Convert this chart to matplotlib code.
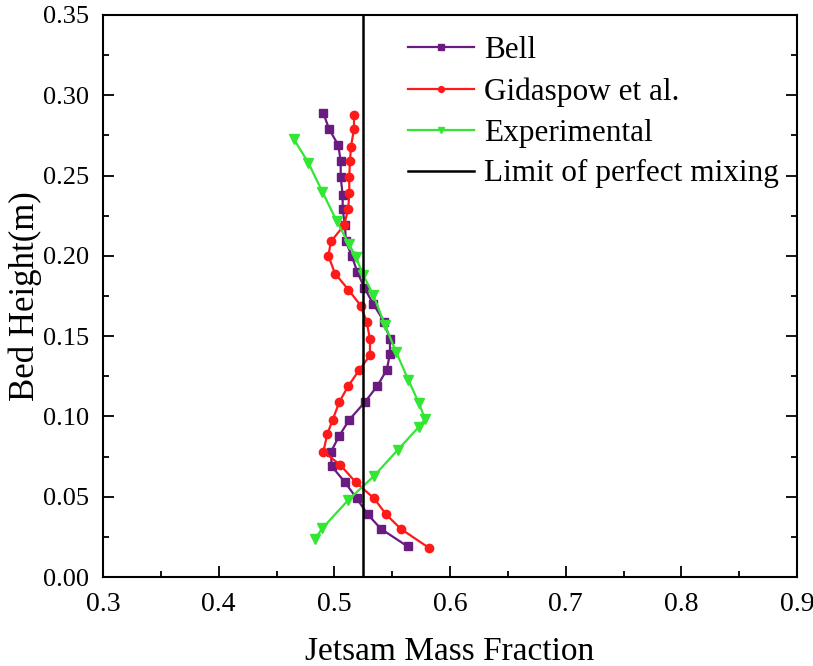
import numpy as np
import matplotlib
matplotlib.use("Agg")
import matplotlib.pyplot as plt
from matplotlib.ticker import MultipleLocator

# =========================
# Data
# =========================

# Bell model (purple squares)
bell_x = [0.4905, 0.4954, 0.5034, 0.5055, 0.5055, 0.5072, 0.5072, 0.5092, 0.5100, 0.5150,
          0.5199, 0.5260, 0.5337, 0.5430, 0.5481, 0.5481, 0.5453, 0.5372, 0.5265, 0.5130,
          0.5043, 0.4971, 0.4977, 0.5092, 0.5193, 0.5288, 0.5403, 0.5634]
bell_y = [0.289, 0.279, 0.269, 0.259, 0.249, 0.238, 0.229, 0.219, 0.209, 0.200,
          0.190, 0.180, 0.170, 0.159, 0.148, 0.139, 0.129, 0.119, 0.109, 0.098,
          0.088, 0.078, 0.069, 0.059, 0.049, 0.039, 0.030, 0.019]

# Gidaspow et al. (red circles)
gida_x = [0.5170, 0.5170, 0.5144, 0.5135, 0.5129, 0.5129, 0.5120, 0.5084, 0.4971, 0.4948,
          0.5006, 0.5121, 0.5228, 0.5280, 0.5308, 0.5308, 0.5216, 0.5121, 0.5043, 0.4986,
          0.4939, 0.4905, 0.5049, 0.5185, 0.5343, 0.5447, 0.5574, 0.5821]
gida_y = [0.288, 0.279, 0.268, 0.259, 0.249, 0.239, 0.229, 0.219, 0.209, 0.200,
          0.189, 0.179, 0.169, 0.159, 0.148, 0.138, 0.129, 0.119, 0.109, 0.098,
          0.089, 0.078, 0.070, 0.059, 0.049, 0.039, 0.030, 0.018]

# Experimental (green down triangles)
exp_x = [0.4651, 0.4775, 0.4896, 0.5020, 0.5127, 0.5185, 0.5250, 0.5337, 0.5438, 0.5533,
         0.5640, 0.5732, 0.5784, 0.5732, 0.5548, 0.5343, 0.5121, 0.4896, 0.4833]
exp_y = [0.2726, 0.2580, 0.2400, 0.2217, 0.2072, 0.1995, 0.1880, 0.1756, 0.1569, 0.1403,
         0.1227, 0.1082, 0.0984, 0.0936, 0.0791, 0.0629, 0.0480, 0.0303, 0.0237]

# Limit of perfect mixing
perfect_mix = 0.525

# =========================
# Figure
# =========================

plt.rcParams["font.family"] = ["Liberation Serif", "DejaVu Serif"]

fig = plt.figure(figsize=(8.13, 6.66), dpi=100)
ax = fig.add_axes([103 / 813, 1 - 577 / 666, (797 - 103) / 813, (577 - 15) / 666])

ax.plot(bell_x, bell_y, color="#6a1b80", marker="s", markersize=5.5, lw=1.6, label="Bell")
ax.plot(gida_x, gida_y, color="#ff1a1a", marker="o", markersize=6, lw=1.6, label="Gidaspow et al.")
ax.plot(exp_x, exp_y, color="#33e633", marker="v", markersize=7, lw=1.6, label="Experimental")
ax.axvline(perfect_mix, color="black", lw=1.8, label="Limit of perfect mixing")

ax.set_xlim(0.3, 0.9)
ax.set_ylim(0.0, 0.35)
ax.xaxis.set_major_locator(MultipleLocator(0.1))
ax.xaxis.set_minor_locator(MultipleLocator(0.05))
ax.yaxis.set_major_locator(MultipleLocator(0.05))
ax.yaxis.set_minor_locator(MultipleLocator(0.025))
ax.xaxis.set_major_formatter(plt.FormatStrFormatter("%.1f"))
ax.yaxis.set_major_formatter(plt.FormatStrFormatter("%.2f"))

ax.tick_params(which="both", direction="in", right=True, top=False, width=1.3)
ax.tick_params(axis="x", labelsize=20)
ax.tick_params(axis="y", labelsize=19)
ax.tick_params(which="major", length=8)
ax.tick_params(axis="x", which="major", pad=11)
ax.tick_params(axis="y", which="major", pad=10)
ax.tick_params(which="minor", length=4)
for s in ax.spines.values():
    s.set_linewidth(1.5)

ax.set_xlabel("Jetsam Mass Fraction", fontsize=24, labelpad=14)
ax.set_ylabel("Bed Height(m)", fontsize=25, labelpad=1)

leg = ax.legend(loc="upper left", bbox_to_anchor=(0.4395, 0.962), frameon=False, fontsize=22.5,
                borderpad=0, borderaxespad=0,
                handlelength=2.1, handletextpad=0.33, labelspacing=0.38, markerscale=0.7)

fig.savefig("out.png", dpi=100)
